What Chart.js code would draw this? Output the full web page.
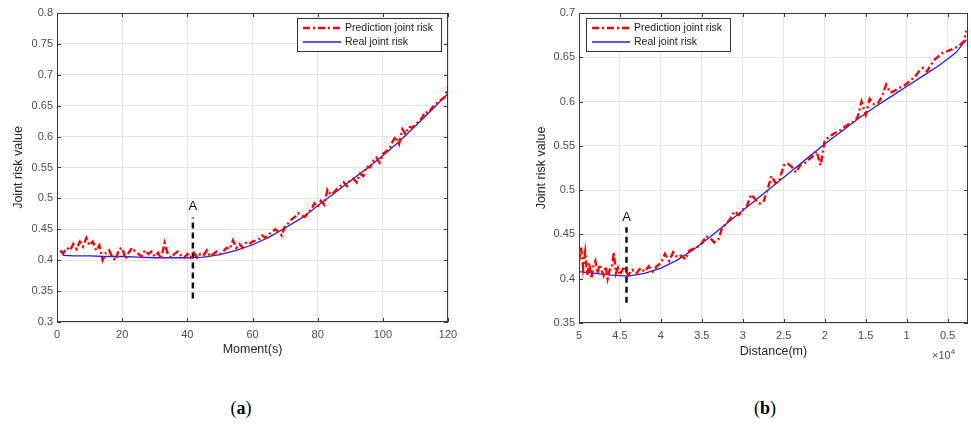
<!DOCTYPE html>
<html>
<head>
<meta charset="utf-8">
<script src="https://cdn.jsdelivr.net/npm/chart.js@4.4.1/dist/chart.umd.min.js"></script>
<style>
body{margin:0;background:#fff;width:971px;height:428px;position:relative;overflow:hidden;font-family:"Liberation Sans",Arial,sans-serif;}
canvas{position:absolute;top:0}
#chartA{left:0}
#chartB{left:500px}
.cap{position:absolute;top:398px;width:60px;text-align:center;font:18px "Liberation Serif",serif;color:#000}
#expo{position:absolute;left:932px;top:347px;font-size:11px;color:#4d4d4d}
#expo sup{font-size:8px;vertical-align:5px}
</style>
</head>
<body>
<canvas id="chartA" width="470" height="370"></canvas>
<canvas id="chartB" width="471" height="370"></canvas>
<div class="cap" style="left:211px">(<b>a</b>)</div>
<div class="cap" style="left:735px">(<b>b</b>)</div>
<div id="expo">×10<sup>4</sup></div>
<script>

// (a) joint risk over time
const momentPred=[
1,2,3,4,5,6,7,8,9,10,
11,12,13,14,15,16,17,18,19,20,
21,22,23,24,25,26,27,28,29,30,
31,32,33,34,35,36,37,38,39,40,
41,42,43,44,45,46,47,48,49,50,
51,52,53,54,55,56,57,58,59,60,
61,62,63,64,65,66,67,68,69,70,
71,72,73,74,75,76,77,78,79,80,
81,82,83,84,85,86,87,88,89,90,
91,92,93,94,95,96,97,98,99,100,
101,102,103,104,105,106,107,108,109,110,
111,112,113,114,115,116,117,118,119,120];

const predA=[
0.415,0.412,0.420,0.416,0.426,0.418,0.430,0.422,0.436,0.424,
0.430,0.416,0.424,0.400,0.412,0.416,0.404,0.400,0.418,0.420,
0.402,0.412,0.420,0.414,0.410,0.406,0.416,0.410,0.414,0.406,
0.412,0.402,0.428,0.410,0.404,0.410,0.414,0.408,0.404,0.410,
0.404,0.412,0.404,0.410,0.408,0.416,0.406,0.410,0.414,0.410,
0.414,0.420,0.418,0.432,0.420,0.426,0.420,0.428,0.426,0.430,
0.432,0.434,0.440,0.436,0.442,0.446,0.450,0.446,0.440,0.456,
0.460,0.466,0.470,0.476,0.472,0.470,0.476,0.482,0.492,0.486,
0.496,0.490,0.514,0.506,0.510,0.516,0.520,0.526,0.520,0.530,
0.532,0.526,0.540,0.536,0.552,0.550,0.560,0.566,0.558,0.572,
0.576,0.580,0.592,0.600,0.588,0.612,0.604,0.616,0.614,0.620,
0.624,0.630,0.640,0.638,0.646,0.652,0.656,0.660,0.664,0.680];

const momentReal=[1,2,5,10,15,20,25,30,35,40,45,50,55,60,65,70,75,80,85,90,95,100,105,110,115,120];
const realA=[0.416,0.408,0.407,0.407,0.406,0.406,0.405,0.404,0.404,0.404,0.405,0.409,0.416,0.425,0.437,0.452,0.468,0.488,0.508,0.528,0.548,0.569,0.592,0.617,0.643,0.670];

const momentTicks=[0,20,40,60,80,100,120];
const riskTicksA=[0.3,0.35,0.4,0.45,0.5,0.55,0.6,0.65,0.7,0.75,0.8];

const markA={x:41.7,from:0.338,to:0.469,label:0.487};

// (b) joint risk over distance
const distPred=[
50000,49750,49500,49250,49000,48750,48500,48250,48000,47750,
47500,47250,47000,46750,46500,46250,46000,45750,45500,45250,
45000,44500,44000,43500,43000,42500,42000,41500,41000,40500,
40000,39500,39000,38500,38000,37500,37000,36500,36000,35500,
35000,34500,34000,33500,33000,32500,32000,31500,31000,30500,
30000,29500,29000,28500,28000,27500,27000,26500,26000,25500,
25000,24500,24000,23500,23000,22500,22000,21500,21000,20500,
20000,19500,19000,18500,18000,17500,17000,16500,16000,15500,
15000,14500,14000,13500,13000,12500,12000,11500,11000,10500,
10000,9500,9000,8500,8000,7500,7000,6500,6000,5500,
5000,4500,4000,3500,3000,2700];

const predB=[
0.420,0.436,0.412,0.430,0.404,0.418,0.400,0.414,0.420,0.406,
0.416,0.410,0.404,0.414,0.400,0.410,0.412,0.430,0.406,0.412,
0.404,0.414,0.404,0.410,0.406,0.412,0.408,0.414,0.408,0.414,
0.418,0.428,0.420,0.430,0.424,0.426,0.422,0.432,0.434,0.436,
0.440,0.448,0.446,0.441,0.444,0.458,0.462,0.468,0.476,0.472,
0.478,0.482,0.495,0.490,0.485,0.486,0.500,0.516,0.508,0.512,
0.528,0.530,0.526,0.520,0.528,0.530,0.534,0.538,0.544,0.528,
0.556,0.560,0.563,0.566,0.568,0.572,0.575,0.577,0.582,0.600,
0.585,0.603,0.597,0.598,0.606,0.619,0.610,0.612,0.615,0.617,
0.620,0.624,0.628,0.634,0.638,0.634,0.642,0.648,0.652,0.656,
0.657,0.659,0.661,0.664,0.668,0.680];

const distReal=[50000,48000,46000,44000,42000,40000,38000,36000,34000,32000,30000,28000,26000,24000,22000,20000,18000,16000,14000,12000,10000,8000,6000,4000,2700];
const realB=[0.408,0.406,0.404,0.403,0.406,0.412,0.421,0.433,0.447,0.462,0.477,0.492,0.507,0.522,0.537,0.552,0.566,0.580,0.593,0.605,0.617,0.629,0.641,0.655,0.670];

const distTicks=[50000,45000,40000,35000,30000,25000,20000,15000,10000,5000];
const riskTicksB=[0.35,0.4,0.45,0.5,0.55,0.6,0.65,0.7];

const markB={x:44200,from:0.373,to:0.458,label:0.469};

const legendLabels=["Prediction joint risk","Real joint risk"];

const pts=(xs,ys)=>xs.map((x,i)=>({x,y:ys[i]}));

const tickFont={family:"Liberation Sans",size:11};
const tickColor="#4d4d4d";
const gridColor="#e4e4e4";

// box, inward ticks, "A" and the legend, matlab style
const frame={
id:"frame",
afterDatasetsDraw(chart,args,opts){
const {ctx,chartArea:a,scales:{x,y}}=chart;
ctx.save();
ctx.strokeStyle="#3a3a3a";
ctx.lineWidth=1;
ctx.setLineDash([]);
ctx.strokeRect(a.left+.5,a.top+.5,a.right-a.left-1,a.bottom-a.top-1);
ctx.beginPath();
x.ticks.forEach((t,i)=>{
const p=Math.round(x.getPixelForTick(i))+.5;
ctx.moveTo(p,a.bottom);ctx.lineTo(p,a.bottom-4);
ctx.moveTo(p,a.top);ctx.lineTo(p,a.top+4);
});
y.ticks.forEach((t,i)=>{
const p=Math.round(y.getPixelForTick(i))+.5;
ctx.moveTo(a.left,p);ctx.lineTo(a.left+4,p);
ctx.moveTo(a.right,p);ctx.lineTo(a.right-4,p);
});
ctx.stroke();

ctx.fillStyle="#111";
ctx.font='13px "Liberation Sans"';
ctx.textAlign="center";
ctx.textBaseline="middle";
ctx.fillText("A",x.getPixelForValue(opts.mark.x),y.getPixelForValue(opts.mark.label));

const w=144,h=33;
const bx=opts.side==="right"?a.right-7-w:a.left+7;
const by=a.top+5;
ctx.fillStyle="#fff";
ctx.fillRect(bx,by,w,h);
ctx.strokeStyle="#333";
ctx.strokeRect(bx+.5,by+.5,w,h);
const ds=chart.data.datasets;
[0,1].forEach(i=>{
const ry=by+10+i*14;
ctx.strokeStyle=ds[i].borderColor;
ctx.lineWidth=ds[i].borderWidth;
ctx.setLineDash(ds[i].borderDash||[]);
ctx.beginPath();ctx.moveTo(bx+6,ry);ctx.lineTo(bx+44,ry);ctx.stroke();
ctx.setLineDash([]);
ctx.fillStyle="#1a1a1a";
ctx.font='10.5px "Liberation Sans"';
ctx.textAlign="left";
ctx.fillText(legendLabels[i],bx+48,ry);
});
ctx.restore();
}
};

function build(id,cfg){
return new Chart(document.getElementById(id),{
type:"line",
data:{
datasets:[
{data:cfg.pred,borderColor:"#ff0000",borderWidth:2.4,borderDash:[7,3,2,3],pointRadius:0,tension:0},
{data:cfg.real,borderColor:"#2020e8",borderWidth:1.3,pointRadius:0,tension:0},
{data:cfg.markLine,borderColor:"#111",borderWidth:2.5,borderDash:[6,4],pointRadius:0}
]
},
options:{
responsive:false,
animation:false,
layout:{padding:{top:13,right:cfg.padRight,left:0,bottom:0}},
plugins:{
legend:{display:false},
tooltip:{enabled:false},
frame:{side:cfg.legendSide,mark:cfg.mark}
},
scales:{
x:{
type:"linear",
reverse:cfg.reverse,
min:cfg.xMin,max:cfg.xMax,
afterBuildTicks:s=>{s.ticks=cfg.xTicks.map(v=>({value:v}));},
afterFit:s=>{s.height=cfg.xHeight;},
ticks:{padding:6,color:tickColor,font:tickFont,maxRotation:0,autoSkip:false,
callback:v=>String(+(v/cfg.xScale).toFixed(2))},
grid:{color:gridColor,drawTicks:false},
border:{display:false},
title:{display:true,text:cfg.xTitle,color:"#262626",font:{family:"Liberation Sans",size:12.5},padding:{top:0,bottom:cfg.xTitlePad}}
},
y:{
min:cfg.yMin,max:cfg.yMax,
afterBuildTicks:s=>{s.ticks=cfg.yTicks.map(v=>({value:v}));},
afterFit:s=>{s.width=cfg.yWidth;},
ticks:{padding:4,color:tickColor,font:tickFont,autoSkip:false,callback:v=>String(+v.toFixed(2))},
grid:{color:gridColor,drawTicks:false},
border:{display:false},
title:{display:true,text:"Joint risk value",color:"#262626",font:{family:"Liberation Sans",size:12.5},padding:{top:cfg.yTitlePad,bottom:0}}
}
}
},
plugins:[frame]
});
}

build("chartA",{
pred:pts(momentPred,predA),
real:pts(momentReal,realA),
markLine:[{x:markA.x,y:markA.from},{x:markA.x,y:markA.to}],
mark:markA,
legendSide:"right",
padRight:22,
reverse:false,
xMin:0,xMax:120,xTicks:momentTicks,xScale:1,
xHeight:48,xTitle:"Moment(s)",xTitlePad:12.5,
yMin:0.3,yMax:0.8,yTicks:riskTicksA,yWidth:57,yTitlePad:11.5
});

build("chartB",{
pred:pts(distPred,predB),
real:pts(distReal,realB),
markLine:[{x:markB.x,y:markB.from},{x:markB.x,y:markB.to}],
mark:markB,
legendSide:"left",
padRight:3,
reverse:true,
xMin:2500,xMax:50000,xTicks:distTicks,xScale:10000,
xHeight:47,xTitle:"Distance(m)",xTitlePad:10.5,
yMin:0.35,yMax:0.7,yTicks:riskTicksB,yWidth:79,yTitlePad:34
});

</script>
</body>
</html>
